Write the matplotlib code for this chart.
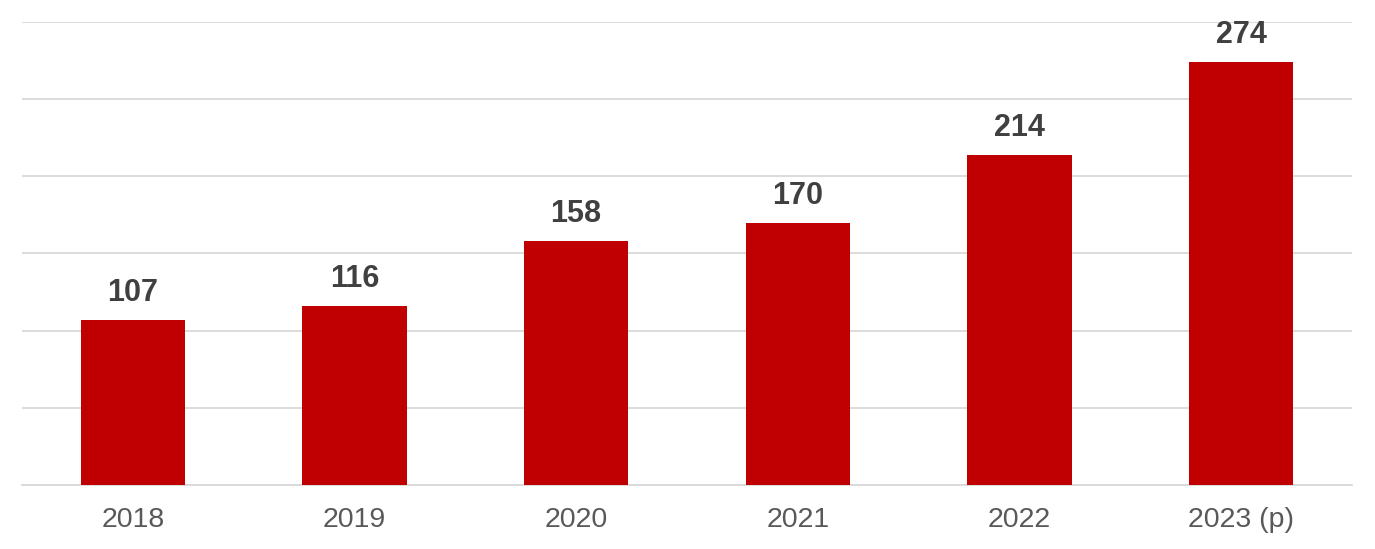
import matplotlib
matplotlib.use("Agg")
import matplotlib.pyplot as plt
import numpy as np

# data
years = ["2018", "2019", "2020", "2021", "2022", "2023 (p)"]
values = [107, 116, 158, 170, 214, 274]

plt.rcParams["font.family"] = ["Liberation Sans", "DejaVu Sans"]

fig = plt.figure(figsize=(13.75, 5.49), dpi=100)
ax = fig.add_axes([22 / 1375, 64 / 549, 1330 / 1375, 463 / 549])

x = np.arange(len(years))
ax.bar(x, values, width=0.47, color="#C00000", zorder=3)

for xi, v in zip(x, values):
    ax.annotate(str(v), (xi, v), xytext=(0, 8.5), textcoords="offset points",
                ha="center", va="bottom", fontsize=22, fontweight="bold",
                color="#404040")

ax.set_xlim(-0.5, len(years) - 0.5)
ax.set_ylim(0, 300)
ax.set_yticks(np.arange(0, 301, 50))
ax.yaxis.grid(True, color="#D9D9D9", linewidth=1.3, zorder=0)
ax.set_yticklabels([])
ax.tick_params(axis="y", length=0)

ax.set_xticks(x)
ax.set_xticklabels(years, fontsize=20.5, color="#595959")
ax.tick_params(axis="x", length=0, pad=16)

for s in ["top", "right", "left"]:
    ax.spines[s].set_visible(False)
ax.spines["bottom"].set_color("#D9D9D9")
ax.spines["bottom"].set_linewidth(1.3)

fig.savefig("out.png", dpi=100)
